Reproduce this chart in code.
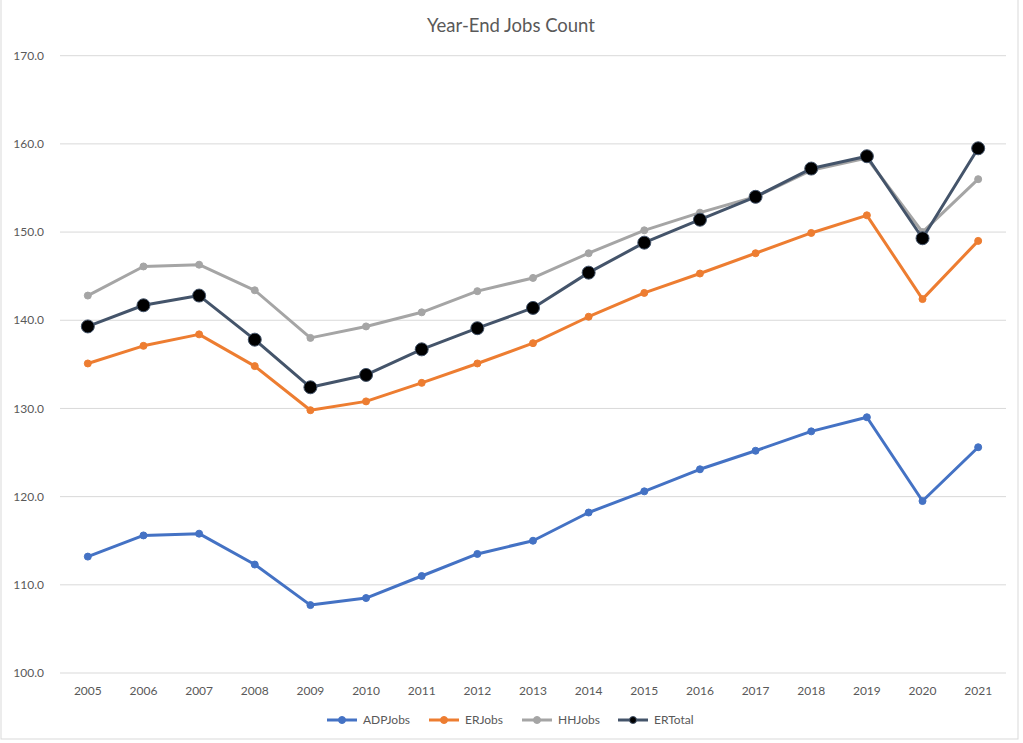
<!DOCTYPE html>
<html lang="en">
  <head>
    <title>Year-End Jobs Count</title>
    <script src="https://d3js.org/d3.v7.min.js"></script>
    <style>
      body {
        margin: 0;
        background-color: #fff;
        font-family: Lato, "Open Sans", sans-serif;
      }
      .grid line {
        stroke: #d9d9d9;
        stroke-width: 1px;
      }
      .tick-label {
        fill: #595959;
        font-size: 12px;
      }
    </style>
  </head>
  <body>
    <div id="chart"></div>
    <script>
      // chart data
      const years = [2005, 2006, 2007, 2008, 2009, 2010, 2011, 2012, 2013,
        2014, 2015, 2016, 2017, 2018, 2019, 2020, 2021];
      const adpJobs = [113.2, 115.6, 115.8, 112.3, 107.7, 108.5, 111.0, 113.5, 115.0,
        118.2, 120.6, 123.1, 125.2, 127.4, 129.0, 119.5, 125.6];
      const erJobs = [135.1, 137.1, 138.4, 134.8, 129.8, 130.8, 132.9, 135.1, 137.4,
        140.4, 143.1, 145.3, 147.6, 149.9, 151.9, 142.4, 149.0];
      const hhJobs = [142.8, 146.1, 146.3, 143.4, 138.0, 139.3, 140.9, 143.3, 144.8,
        147.6, 150.2, 152.2, 154.0, 157.0, 158.4, 150.0, 156.0];
      const erTotal = [139.3, 141.7, 142.8, 137.8, 132.4, 133.8, 136.7, 139.1, 141.4,
        145.4, 148.8, 151.4, 154.0, 157.2, 158.6, 149.3, 159.5];
      const yTicks = [100, 110, 120, 130, 140, 150, 160, 170];

      const series = [
        { name: "ADPJobs", values: adpJobs, color: "#4472c4", marker: "#4472c4", r: 3.5 },
        { name: "ERJobs", values: erJobs, color: "#ed7d31", marker: "#ed7d31", r: 3.5 },
        { name: "HHJobs", values: hhJobs, color: "#a5a5a5", marker: "#a5a5a5", r: 3.5 },
        { name: "ERTotal", values: erTotal, color: "#44546a", marker: "#000", r: 6.5 },
      ];

      const width = 1023;
      const height = 743;
      const plot = { left: 60, right: 1006, top: 55.7, bottom: 673 };

      const svg = d3
        .select("#chart")
        .append("svg")
        .attr("width", width)
        .attr("height", height);

      // outer frame
      svg
        .append("rect")
        .attr("x", 1)
        .attr("y", -1)
        .attr("width", 1017)
        .attr("height", 740)
        .attr("fill", "#fff")
        .attr("stroke", "#d9d9d9");

      const x = d3
        .scalePoint()
        .domain(years)
        .range([plot.left, plot.right])
        .padding(0.5);

      const y = d3
        .scaleLinear()
        .domain([100, 170])
        .range([plot.bottom, plot.top]);

      // gridlines
      svg
        .append("g")
        .attr("class", "grid")
        .selectAll("line")
        .data(yTicks)
        .enter()
        .append("line")
        .attr("x1", plot.left)
        .attr("x2", plot.right)
        .attr("y1", (d) => y(d))
        .attr("y2", (d) => y(d));

      // y labels
      svg
        .append("g")
        .selectAll("text")
        .data(yTicks)
        .enter()
        .append("text")
        .attr("class", "tick-label")
        .attr("x", 44)
        .attr("y", (d) => y(d))
        .attr("dy", "0.35em")
        .attr("text-anchor", "end")
        .text((d) => d.toFixed(1));

      // x labels
      svg
        .append("g")
        .selectAll("text")
        .data(years)
        .enter()
        .append("text")
        .attr("class", "tick-label")
        .attr("x", (d) => x(d))
        .attr("y", 691)
        .attr("dy", "0.35em")
        .attr("text-anchor", "middle")
        .text((d) => d);

      // title
      svg
        .append("text")
        .attr("x", 511)
        .attr("y", 26)
        .attr("dy", "0.35em")
        .attr("text-anchor", "middle")
        .attr("fill", "#595959")
        .attr("font-size", "18.5px")
        .text("Year-End Jobs Count");

      const line = d3
        .line()
        .x((d, i) => x(years[i]))
        .y((d) => y(d));

      series.forEach((s) => {
        const g = svg.append("g");
        g.append("path")
          .datum(s.values)
          .attr("d", line)
          .attr("fill", "none")
          .attr("stroke", s.color)
          .attr("stroke-width", 3)
          .attr("stroke-linejoin", "round")
          .attr("stroke-linecap", "round");
        g.selectAll("circle")
          .data(s.values)
          .enter()
          .append("circle")
          .attr("cx", (d, i) => x(years[i]))
          .attr("cy", (d) => y(d))
          .attr("r", s.r)
          .attr("fill", s.marker)
          .attr("stroke", s.color)
          .attr("stroke-width", 1);
      });

      // legend
      const legendX = [327, 429, 522, 618];
      const legend = svg.append("g");
      series.forEach((s, i) => {
        const lx = legendX[i];
        const ly = 720;
        legend
          .append("line")
          .attr("x1", lx)
          .attr("x2", lx + 30)
          .attr("y1", ly)
          .attr("y2", ly)
          .attr("stroke", s.color)
          .attr("stroke-width", 3);
        legend
          .append("circle")
          .attr("cx", lx + 15)
          .attr("cy", ly)
          .attr("r", 3.5)
          .attr("fill", s.marker)
          .attr("stroke", s.color);
        legend
          .append("text")
          .attr("class", "tick-label")
          .attr("x", lx + 36)
          .attr("y", ly)
          .attr("dy", "0.35em")
          .text(s.name);
      });
    </script>
  </body>
</html>
